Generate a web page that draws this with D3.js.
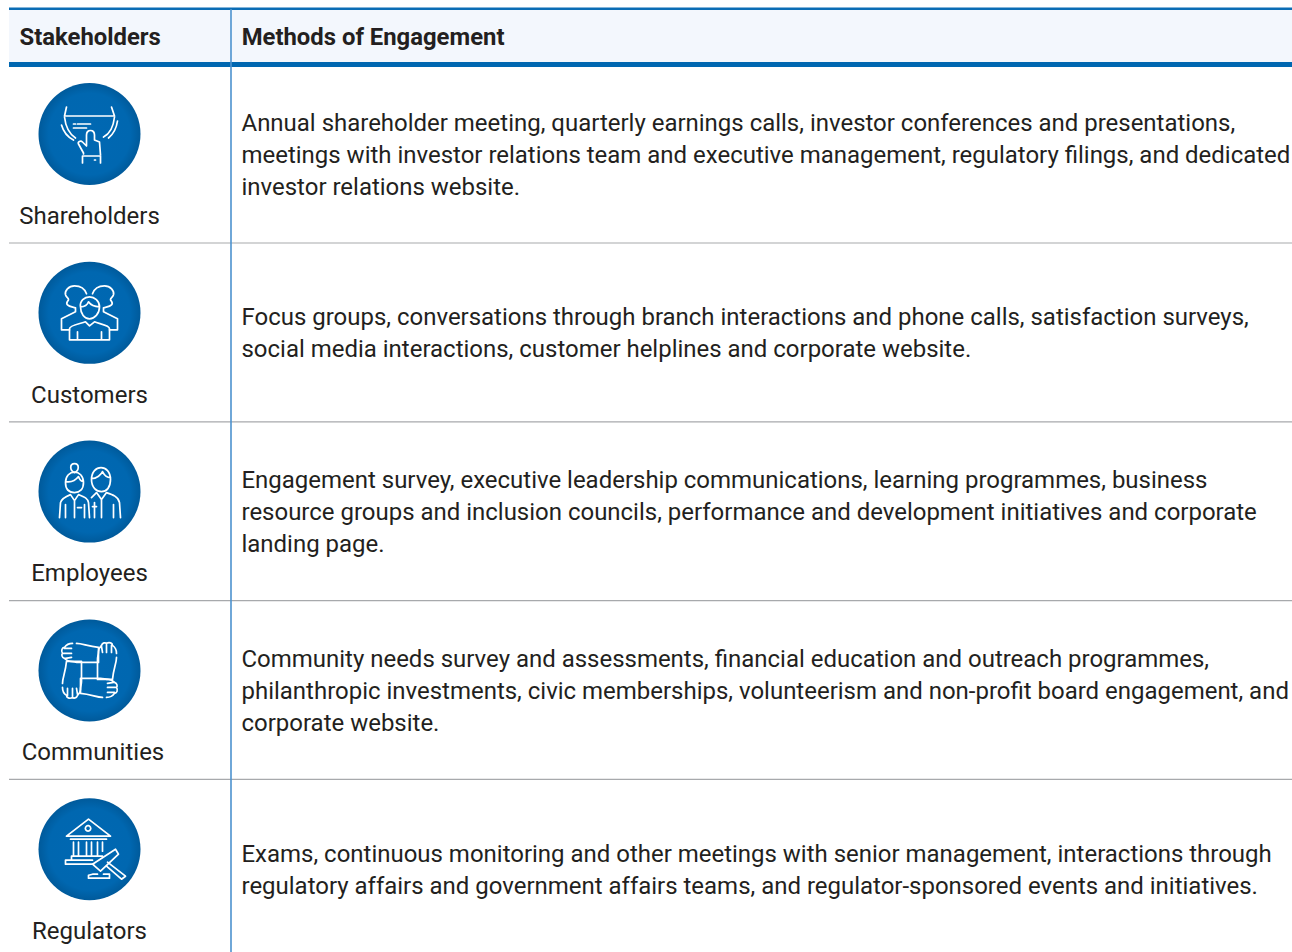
<!DOCTYPE html>
<html>
<head>
<meta charset="utf-8">
<script src="https://cdn.jsdelivr.net/npm/d3@7"></script>
<style>
  html, body { margin: 0; padding: 0; background: #fff; overflow: hidden; }
  text { font-family: Roboto, sans-serif; fill: #231f20; }
</style>
</head>
<body>
<script>
var columns = ["Stakeholders", "Methods of Engagement"];
var stakeholders = ["Shareholders", "Customers", "Employees", "Communities", "Regulators"];
var methods = [
  ["Annual shareholder meeting, quarterly earnings calls, investor conferences and presentations,",
   "meetings with investor relations team and executive management, regulatory filings, and dedicated",
   "investor relations website."],
  ["Focus groups, conversations through branch interactions and phone calls, satisfaction surveys,",
   "social media interactions, customer helplines and corporate website."],
  ["Engagement survey, executive leadership communications, learning programmes, business",
   "resource groups and inclusion councils, performance and development initiatives and corporate",
   "landing page."],
  ["Community needs survey and assessments, financial education and outreach programmes,",
   "philanthropic investments, civic memberships, volunteerism and non-profit board engagement, and",
   "corporate website."],
  ["Exams, continuous monitoring and other meetings with senior management, interactions through",
   "regulatory affairs and government affairs teams, and regulator-sponsored events and initiatives."]
];

// icon outlines, in px around the circle centre
var arm = "M-13,-27 C-7,-27 -2,-24 9,-23 L9,-8 L-11,-8 C-14,-8 -16,-9 -19,-9 C-22,-9 -24,-11 -25,-12 C-28,-13 -28,-16 -27,-17 C-29,-20 -27,-23 -25,-23 C-23,-26 -20,-27 -17,-27 M-26,-17 L-18,-17 M-25,-22 L-18,-22 M-24,-12 L-18,-13";
var icons = {
  Shareholders: ["M-23,-27 L-25,-18 L25,-18 L22,-27",
    "M-25,-17 C-24,-8 -20,0 -14,4 M25,-17 C24,-8 20,0 14,3",
    "M-28,-9 C-26,-2 -22,3 -16,6 M28,-13 C27,-6 24,0 19,4",
    "M-16,-10 L-14,-10 M-12,-10 L1,-10 M-16,-6 L-3,-6",
    "M-6,20 L-6,19 L-11,10 C-12,8 -9,6 -7,8 L-3,12 L-3,1 C-3,-5 5,-5 5,1 L5,6 L10,8 L11,21",
    "M-7,22 L11,22 L11,29 M-7,22 L-7,29 M5,26 L6,26"],
  Customers: ["M-9,-6 C-10,-12 -5,-16 0,-16 C5,-16 10,-12 10,-6 C10,1 5,6 0,6 C-5,6 -9,1 -9,-6 Z M-9,-6 C-5,-6 -2,-8 -1,-11 C1,-8 5,-6 10,-6",
    "M-20,27 L-20,16 C-20,12 -9,11 -4,9 L0,13 L5,9 C9,11 20,12 20,16 L20,27 Z M-12,27 L-12,19 M12,27 L12,19",
    "M-3,-19 C-5,-25 -10,-27 -15,-27 C-21,-27 -25,-22 -24,-18 C-23,-15 -21,-15 -21,-13 C-22,-11 -24,-10 -22,-8 C-20,-6 -17,-6 -14,-5 L-14,-1 L-28,6 L-28,17 L-20,17",
    "M3,-19 C5,-25 10,-27 15,-27 C21,-27 25,-22 24,-18 C23,-15 21,-15 21,-13 C22,-11 24,-10 22,-8 C20,-6 17,-6 14,-5 L14,-1 L28,6 L28,17 L20,17"],
  Employees: ["M-24,-9 C-24,-23 -6,-23 -6,-9 C-6,-2 -10,1 -15,1 C-20,1 -24,-2 -24,-9 Z M-24,-10 C-19,-9 -14,-11 -11,-15 C-10,-12 -8,-10 -6,-10",
    "M-15,-19 C-20,-21 -20,-28 -15,-28 C-10,-28 -10,-21 -15,-19",
    "M-30,26 L-29,11 C-28,7 -24,5 -19,3 L-15,9 L-11,3 C-6,5 -2,6 -1,11 L0,26 M-24,26 L-24,13 M-5,26 L-5,13 M-15,9 L-15,26 M-12,16 L-8,16",
    "M2,-12 C2,-28 21,-28 21,-12 C21,-4 17,0 12,0 C7,0 2,-4 2,-12 Z M2,-13 C7,-13 12,-17 13,-20 C15,-16 18,-14 21,-14",
    "M2,6 L7,1 L12,8 L17,1 C23,3 29,5 30,11 L31,26 M12,8 L12,26 M24,26 L24,13 M3,15 L7,15 M5,26 L5,11"],
  Communities: [arm, "rotate90", "rotate180", "rotate270"],
  Regulators: ["M-23,-13 L-1,-30 L21,-13 Z",
    "M-1.5,-23.5 a2.7,2.7 0 1 0 0.1,0",
    "M-19,-10 L17,-10 M-16,-7 L-16,7 M-11,-7 L-11,7 M-3,-7 L-3,7 M2,-7 L2,7 M8,-7 L8,7 M13,-7 L13,2",
    "M-18,7 L13,7 M-18,7 L-18,11 M-24,11 L3,11 M-24,11 L-24,15 L4,15",
    "M3,15 L26,0 L29,5 L11,22 Z",
    "M17,17 L32,30 L36,27 L18,13",
    "M-1,29 L20,29 L20,25 L14,25 M-1,29 L-1,26 L3,25 L8,25"]
};

var width = 1292, height = 952;
var svg = d3.select("body").append("svg")
  .attr("width", width)
  .attr("height", height)
  .style("display", "block");

var y = d3.scaleBand().domain(stakeholders).range([64.2, 64.2 + 178.8 * 5]);
var labelX = { Communities: 93 };

var grad = svg.append("defs").append("radialGradient").attr("id", "disc");
grad.append("stop").attr("offset", "0%").attr("stop-color", "#0068b3");
grad.append("stop").attr("offset", "80%").attr("stop-color", "#0067b0");
grad.append("stop").attr("offset", "100%").attr("stop-color", "#005a9b");

// header band
svg.append("rect").attr("x", 9).attr("y", 9).attr("width", width - 9).attr("height", 54).attr("fill", "#f3f7fd");
svg.append("rect").attr("x", 9).attr("y", 7.5).attr("width", width - 9).attr("height", 2.5).attr("fill", "#0b6db5");
svg.append("rect").attr("x", 9).attr("y", 62).attr("width", width - 9).attr("height", 5).attr("fill", "#0067b1");

svg.selectAll(".head").data(columns).enter().append("text")
  .attr("class", "head")
  .attr("x", function(d, i) { return i ? 241.7 : 19.5; })
  .attr("y", 45)
  .attr("font-size", 23.85)
  .attr("font-weight", 700)
  .text(function(d) { return d; });

var rows = svg.selectAll(".row").data(stakeholders).enter().append("g")
  .attr("class", "row")
  .attr("transform", function(d) { return "translate(0," + y(d) + ")"; });

rows.filter(function(d, i) { return i < stakeholders.length - 1; }).append("line")
  .attr("x1", 9).attr("x2", width)
  .attr("y1", y.bandwidth()).attr("y2", y.bandwidth())
  .attr("stroke", "#a7a9ac").attr("stroke-width", 1.2);

var icon = rows.append("g").attr("transform", "translate(89.5,69.8)");
icon.append("circle").attr("r", 51).attr("fill", "url(#disc)");
icon.each(function(d) {
  var g = d3.select(this).append("g")
    .attr("fill", "none").attr("stroke", "#fff").attr("stroke-width", 1.7)
    .attr("stroke-linecap", "round").attr("stroke-linejoin", "round");
  icons[d].forEach(function(p) {
    if (p.indexOf("rotate") === 0) {
      g.append("path").attr("d", arm).attr("transform", "rotate(" + p.slice(6) + ")");
    } else {
      g.append("path").attr("d", p);
    }
  });
});

rows.append("text")
  .attr("x", function(d) { return labelX[d] || 89.5; })
  .attr("y", 159.7)
  .attr("text-anchor", "middle")
  .attr("font-size", 24)
  .text(function(d) { return d; });

rows.each(function(d, i) {
  var lines = methods[i];
  d3.select(this).selectAll(".method").data(lines).enter().append("text")
    .attr("class", "method")
    .attr("x", 241.5)
    .attr("y", function(l, j) { return 98.4 + (j - (lines.length - 1) / 2) * 32; })
    .attr("font-size", 23.97)
    .text(function(l) { return l; });
});

// column divider goes over everything
svg.append("line").attr("x1", 231).attr("x2", 231).attr("y1", 9).attr("y2", height)
  .attr("stroke", "#4c92cf").attr("stroke-width", 1.6);
</script>
</body>
</html>
